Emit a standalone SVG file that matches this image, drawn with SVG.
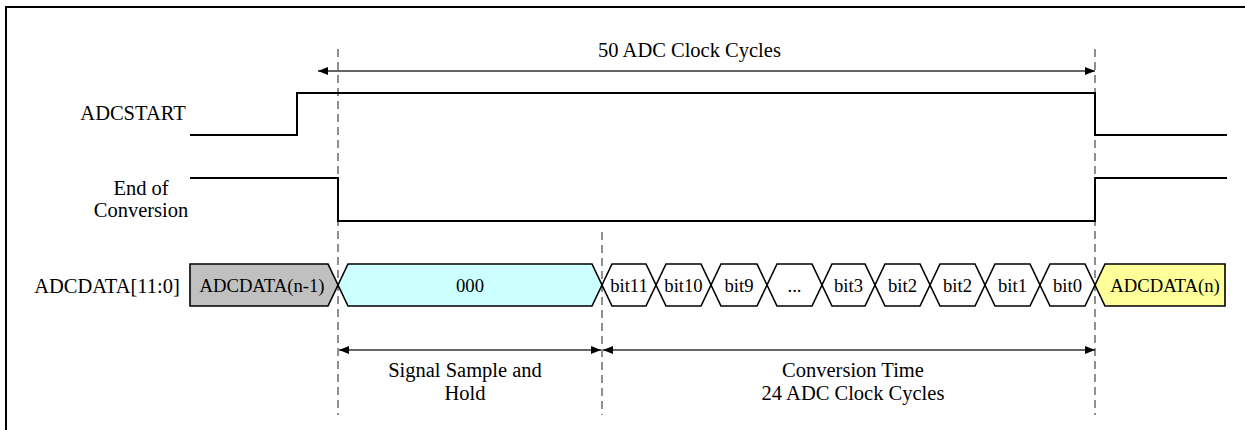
<svg xmlns="http://www.w3.org/2000/svg" width="1245" height="430" viewBox="0 0 1245 430">
<style>
text{font-family:"Liberation Serif","Times New Roman",serif;fill:#000}
.lbl{font-size:20.5px;text-anchor:middle}
.bus{font-size:18.7px;text-anchor:middle}
.sig{fill:none;stroke:#000;stroke-width:2}
.dash{fill:none;stroke:#555;stroke-width:1.3;stroke-dasharray:8 5}
.dim{fill:none;stroke:#333;stroke-width:1.3}
.seg{stroke:#000;stroke-width:1.6;stroke-linejoin:miter}
</style>
<defs>
<marker id="ah" viewBox="0 0 10 8" refX="10" refY="4" markerWidth="10" markerHeight="8" markerUnits="userSpaceOnUse" orient="auto-start-reverse">
<path d="M0,0 L10,4 L0,8 Z" fill="#000"/>
</marker>
</defs>
<rect width="1245" height="430" fill="#fff"/>
<path d="M6,430 V7 H1245" fill="none" stroke="#000" stroke-width="2"/>

<g id="labels">
<text class="lbl" x="133" y="120">ADCSTART</text>
<text class="lbl" x="141" y="195">End of</text>
<text class="lbl" x="141" y="217">Conversion</text>
<text class="lbl" x="107" y="293">ADCDATA[11:0]</text>
</g>

<g id="guides">
<line class="dash" x1="338" y1="49" x2="338" y2="415"/>
<line class="dash" x1="602" y1="232" x2="602" y2="415"/>
<line class="dash" x1="1095" y1="49" x2="1095" y2="415"/>
</g>

<g id="adcstart">
<path class="sig" d="M190,135 H297 V93 H1095 V135 H1227"/>
</g>
<g id="eoc">
<path class="sig" d="M190,178 H338 V221 H1095 V178 H1227"/>
</g>

<g id="adcdata">
<g id="d-prev"><path class="seg" fill="#c0c0c0" d="M190,264 H328 L338,285 L328,306 H190 Z"/><text class="bus" x="262" y="292">ADCDATA(n-1)</text></g>
<g id="d-000"><path class="seg" fill="#ccffff" d="M338,285 L348,264 H592 L602,285 L592,306 H348 Z"/><text class="bus" x="470" y="292">000</text></g>
<g id="b11"><path class="seg" fill="#fff" d="M602,285 L612,264 H646 L656,285 L646,306 H612 Z"/><text class="bus" x="629" y="292">bit11</text></g>
<g id="b10"><path class="seg" fill="#fff" d="M656,285 L666,264 H701 L711,285 L701,306 H666 Z"/><text class="bus" x="683.5" y="292">bit10</text></g>
<g id="b9"><path class="seg" fill="#fff" d="M711,285 L721,264 H757 L767,285 L757,306 H721 Z"/><text class="bus" x="739" y="292">bit9</text></g>
<g id="bdots"><path class="seg" fill="#fff" d="M767,285 L777,264 H812 L822,285 L812,306 H777 Z"/><text class="bus" x="794.5" y="292">...</text></g>
<g id="b3"><path class="seg" fill="#fff" d="M822,285 L832,264 H865 L875,285 L865,306 H832 Z"/><text class="bus" x="848.5" y="292">bit3</text></g>
<g id="b2a"><path class="seg" fill="#fff" d="M875,285 L885,264 H920 L930,285 L920,306 H885 Z"/><text class="bus" x="902.5" y="292">bit2</text></g>
<g id="b2b"><path class="seg" fill="#fff" d="M930,285 L940,264 H975 L985,285 L975,306 H940 Z"/><text class="bus" x="957.5" y="292">bit2</text></g>
<g id="b1"><path class="seg" fill="#fff" d="M985,285 L995,264 H1030 L1040,285 L1030,306 H995 Z"/><text class="bus" x="1012.5" y="292">bit1</text></g>
<g id="b0"><path class="seg" fill="#fff" d="M1040,285 L1050,264 H1085 L1095,285 L1085,306 H1050 Z"/><text class="bus" x="1067.5" y="292">bit0</text></g>
<g id="d-next"><path class="seg" fill="#ffff99" d="M1095,285 L1105,264 H1225 V306 H1105 Z"/><text class="bus" x="1165" y="292">ADCDATA(n)</text></g>
</g>

<g id="connectors">
<line class="dim" x1="318" y1="71" x2="1095" y2="71" marker-start="url(#ah)" marker-end="url(#ah)"/>
<line class="dim" x1="339" y1="350" x2="601" y2="350" marker-start="url(#ah)" marker-end="url(#ah)"/>
<line class="dim" x1="603" y1="350" x2="1095" y2="350" marker-start="url(#ah)" marker-end="url(#ah)"/>
</g>

<g id="annotations">
<text class="lbl" x="689.5" y="57">50 ADC Clock Cycles</text>
<text class="lbl" x="465" y="377">Signal Sample and</text>
<text class="lbl" x="465" y="400">Hold</text>
<text class="lbl" x="853" y="377">Conversion Time</text>
<text class="lbl" x="853" y="400">24 ADC Clock Cycles</text>
</g>
</svg>
